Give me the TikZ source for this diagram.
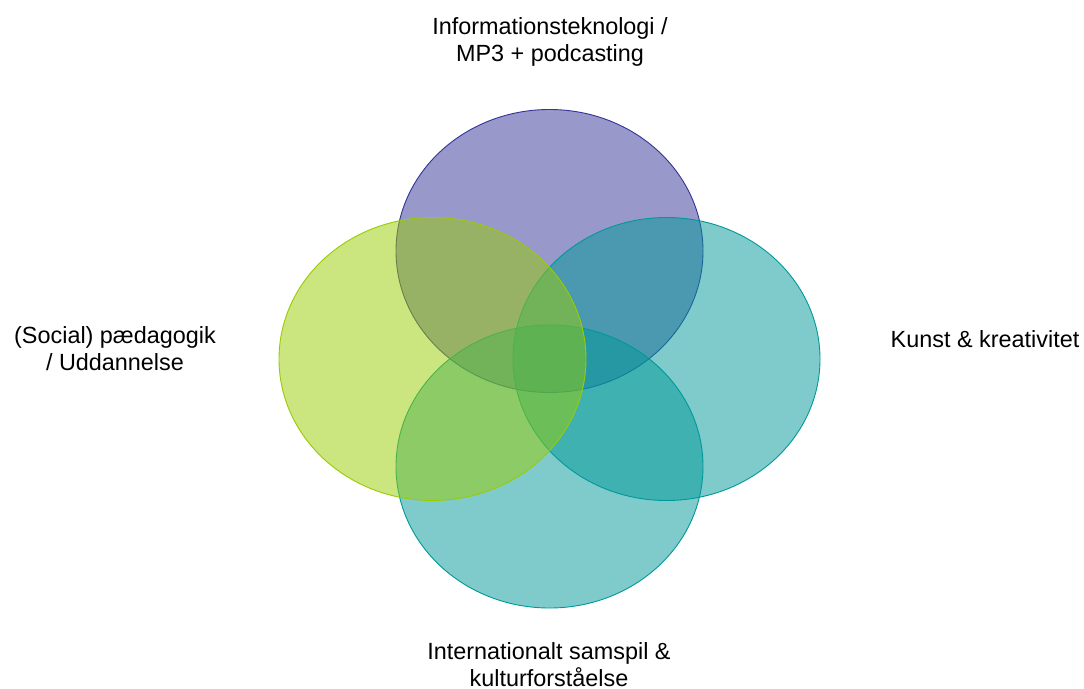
\documentclass[tikz,border=0pt]{standalone}
\usepackage{fontspec}
\setmainfont{Liberation Sans}
\usetikzlibrary{shapes.geometric}
\definecolor{cpurple}{RGB}{51,51,153}
\definecolor{cgreen}{RGB}{153,204,0}
\definecolor{cteal}{RGB}{0,153,153}
\tikzset{
  venn/.style={ellipse, inner sep=0pt, minimum width=307pt, minimum height=283pt,
    line width=0.9pt, fill opacity=0.5, draw opacity=1},
  lbl/.style={font=\fontsize{23.4}{26.7}\selectfont, align=center, inner sep=0pt, text=black}
}
\begin{document}
\begin{tikzpicture}[x=1pt,y=-1pt]
\useasboundingbox[fill=white] (0,0) rectangle (1084,688);
\node[venn, draw=cpurple, fill=cpurple] (it) at (549.5,251) {};
\node[venn, draw=cteal, fill=cteal] (kunst) at (666.5,359) {};
\node[venn, draw=cteal, fill=cteal] (inter) at (549.5,466.5) {};
\node[venn, draw=cgreen, fill=cgreen] (paed) at (432.5,359) {};
\node[lbl, anchor=base] (tit) at (550,61) {Informationsteknologi /\\MP3 + podcasting};
\node[lbl, anchor=base] (tpaed) at (115,370) {(Social) pædagogik\\/ Uddannelse};
\node[lbl, anchor=base] (tkunst) at (985,347.7) {Kunst \& kreativitet};
\node[lbl, anchor=base] (tinter) at (549,686) {Internationalt samspil \&\\kulturforståelse};
\end{tikzpicture}
\end{document}
